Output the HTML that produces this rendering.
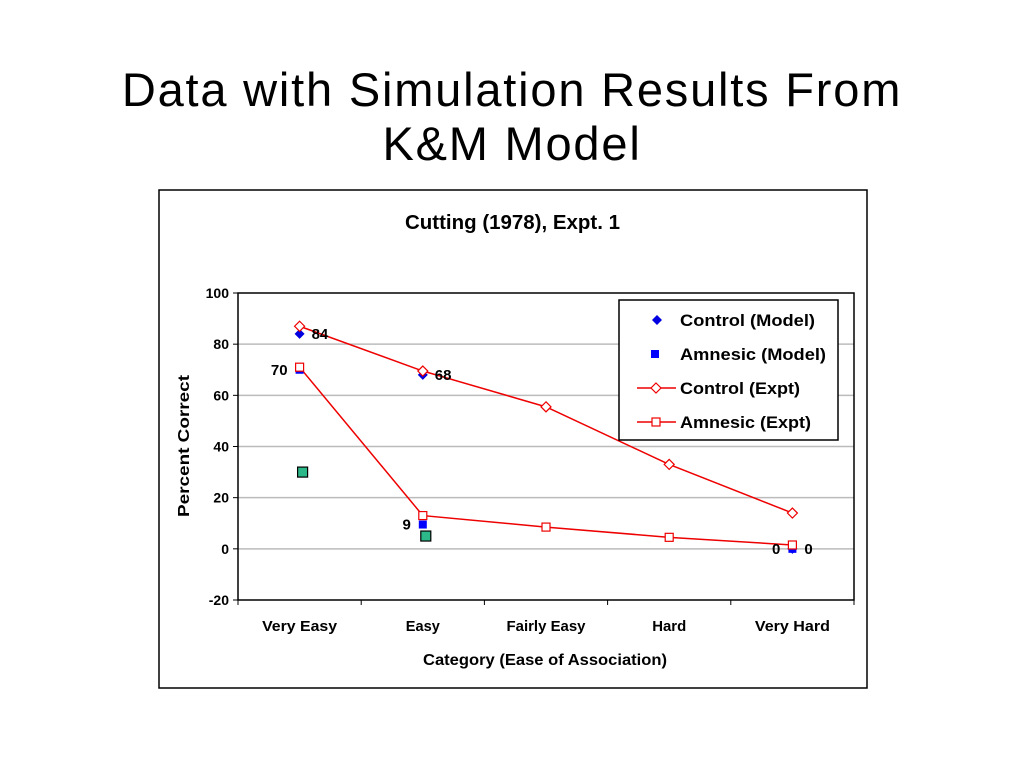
<!DOCTYPE html>
<html><head><meta charset="utf-8"><style>
body{margin:0;width:1024px;height:768px;background:#fff;overflow:hidden;font-family:"Liberation Sans",sans-serif}
#title{position:absolute;left:0;width:1024px;top:63px;text-align:center;font-size:47px;line-height:54px;letter-spacing:1.8px;color:#000}
</style></head><body>
<div id="title">Data with Simulation Results From<br>K&amp;M Model</div>
<svg id="chart" width="1024" height="768" style="position:absolute;left:0;top:0"></svg>
<script>
const categories=["Very Easy","Easy","Fairly Easy","Hard","Very Hard"];
const controlExpt=[87,69.5,55.5,33,14];
const amnesicExpt=[71,13,8.5,4.5,1.5];
const controlModel=[84,68,null,null,0];
const amnesicModel=[70,9.5,null,null,0];
const extraPoints=[30,5,null,null,null];
const controlLabels=["84","68","","","0"];
const amnesicLabels=["70","9","","","0"];
const yTicks=[-20,0,20,40,60,80,100];
const NS="http://www.w3.org/2000/svg";
const svg=document.getElementById('chart');
const L=238,R=854,T=293,B=600;
const bw=(R-L)/categories.length;
const x=i=>L+bw*(i+0.5);
const y=v=>B-(v+20)/120*(B-T);
function mk(t,a,p){const e=document.createElementNS(NS,t);for(const k in a)e.setAttribute(k,a[k]);(p||svg).appendChild(e);return e;}
function txt(s,a){const e=mk('text',a);e.textContent=s;return e;}
let e;
e=mk('rect',{x:159,y:190,width:708,height:498,fill:'#fff',stroke:'#000','stroke-width':1.5});

e=txt('Cutting (1978), Expt. 1',{x:405,y:229,'font-size':20,'font-weight':'bold',textLength:215,lengthAdjust:'spacingAndGlyphs'});

yTicks.forEach(v=>{
 if(v!==-20&&v!==100){e=mk('line',{x1:L,x2:R,y1:y(v),y2:y(v),stroke:'#bbb','stroke-width':1.5});}
 mk('line',{x1:L-5,x2:L,y1:y(v),y2:y(v),stroke:'#000'});
 e=txt(v,{x:L-9,y:y(v)+5,'text-anchor':'end','font-size':14,'font-weight':'bold'});
 
});
e=mk('rect',{x:L,y:T,width:R-L,height:B-T,fill:'none',stroke:'#000','stroke-width':1.5});

for(let i=0;i<=categories.length;i++)mk('line',{x1:L+bw*i,x2:L+bw*i,y1:B,y2:B+5,stroke:'#000'});
const tickW=[75,34,79,34,75];
categories.forEach((c,i)=>{e=txt(c,{x:x(i),y:631,'text-anchor':'middle','font-size':15,'font-weight':'bold',textLength:tickW[i],lengthAdjust:'spacingAndGlyphs'});});
e=txt('Category (Ease of Association)',{x:423,y:665,'font-size':16,'font-weight':'bold',textLength:244,lengthAdjust:'spacingAndGlyphs'});

e=txt('Percent Correct',{x:0,y:0,transform:'translate(189,446) rotate(-90)','text-anchor':'middle','font-size':16,'font-weight':'bold',textLength:142,lengthAdjust:'spacingAndGlyphs'});

function diamond(cx,cy,r,fill,stroke,p){return mk('polygon',{points:`${cx},${cy-r} ${cx+r},${cy} ${cx},${cy+r} ${cx-r},${cy}`,fill:fill,stroke:stroke,'stroke-width':1.2},p);}
function sq(cx,cy,r,fill,stroke,p){return mk('rect',{x:cx-r,y:cy-r,width:2*r,height:2*r,fill:fill,stroke:stroke,'stroke-width':1.2},p);}
function line(arr){return mk('polyline',{points:arr.map((v,i)=>x(i)+','+y(v)).join(' '),fill:'none',stroke:'#e00','stroke-width':1.5});}
extraPoints.forEach((v,i)=>{if(v!==null){e=sq(x(i)+3,y(v),5,'#2db88a','#000');}});
e=line(controlExpt);
e=line(amnesicExpt);
controlModel.forEach((v,i)=>{if(v!==null){e=diamond(x(i),y(v),5,'#0000e0','none');}});
amnesicModel.forEach((v,i)=>{if(v!==null){e=sq(x(i),y(v),4,'#0000ff','none');}});
controlExpt.forEach((v,i)=>{e=diamond(x(i),y(v),5,'#fff','#e00');});
amnesicExpt.forEach((v,i)=>{e=sq(x(i),y(v),4,'#fff','#e00');});
controlModel.forEach((v,i)=>{if(v!==null&&controlLabels[i]){e=txt(controlLabels[i],{x:x(i)+12,y:y(v)+5,'font-size':15,'font-weight':'bold'});}});
amnesicModel.forEach((v,i)=>{if(v!==null&&amnesicLabels[i]){e=txt(amnesicLabels[i],{x:x(i)-12,y:y(v)+5,'text-anchor':'end','font-size':15,'font-weight':'bold'});}});
const lg=mk('g',{});

mk('rect',{x:619,y:300,width:219,height:140,fill:'#fff',stroke:'#000','stroke-width':1.5},lg);
const names=["Control (Model)","Amnesic (Model)","Control (Expt)","Amnesic (Expt)"];
const nameW=[135,146,120,131];
names.forEach((n,k)=>{const cy=320+k*34;
 if(k===0){diamond(657,cy,5,'#0000e0','none',lg);}
 if(k===1){sq(655,cy,4,'#0000ff','none',lg);}
 if(k>=2){mk('line',{x1:637,x2:676,y1:cy,y2:cy,stroke:'#e00','stroke-width':1.5},lg);}
 if(k===2)diamond(656,cy,5,'#fff','#e00',lg);
 if(k===3)sq(656,cy,4,'#fff','#e00',lg);
 const t=mk('text',{x:680,y:cy+6,'font-size':17,'font-weight':'bold',textLength:nameW[k],lengthAdjust:'spacingAndGlyphs'},lg);t.textContent=n;
 
});
</script>
</body></html>
